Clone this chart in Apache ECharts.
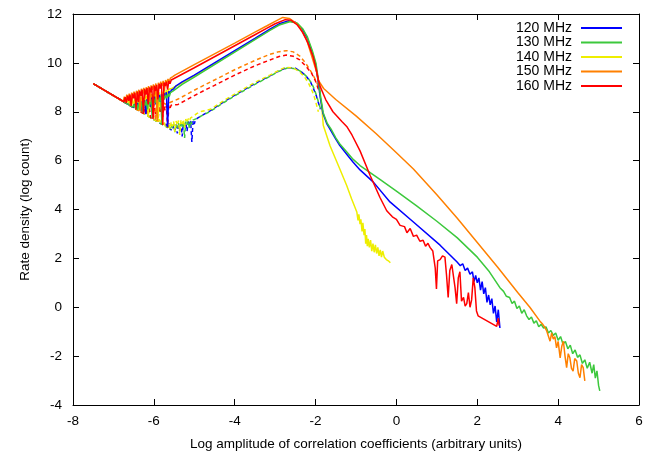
<!DOCTYPE html>
<html>
<head>
<meta charset="utf-8">
<script src="https://cdn.jsdelivr.net/npm/echarts@6/dist/echarts.min.js"></script>
<style>html,body{margin:0;padding:0;background:#fff}#c{width:659px;height:456px}</style>
</head>
<body>
<div id="c"></div>
<script>
const legendNames = ['120 MHz', '130 MHz', '140 MHz', '150 MHz', '160 MHz'];
const xTitle = 'Log amplitude of correlation coefficients (arbitrary units)';
const yTitle = 'Rate density (log count)';

// solid curves [x, y]
const s120solid = [[-7.5,9.15],[-6.50,8.17],
[-6.47,8.32],[-6.44,8.16],[-6.41,8.36],[-6.38,8.20],[-6.35,8.40],[-6.32,8.05],[-6.29,8.43],[-6.26,8.28],[-6.23,8.47],[-6.20,7.90],[-6.17,8.51],[-6.14,8.35],[-6.11,8.55],[-6.08,8.20],[-6.05,8.58],[-6.02,8.45],[-5.99,8.62],[-5.96,8.30],[-5.93,8.65],[-5.90,8.50],[-5.87,8.69],[-5.84,8.40],[-5.81,8.72],[-5.78,8.58],[-5.75,8.76],[-5.72,8.62],[-5.69,8.80],[-5.66,7.38],[-5.63,8.84],[-5.60,8.75],[-5.57,8.88],[-5.54,8.82],[-5.51,8.94],[-5.46,9.05],
[-5.3,9.22],[-5.0,9.5],[-4.5,10.0],[-4.0,10.5],[-3.5,11.0],[-3.13,11.38],[-2.9,11.6],[-2.68,11.72],[-2.5,11.66],[-2.35,11.42],[-2.22,11.05],[-2.1,10.5],[-2.01,9.98],[-1.94,9.3],[-1.88,8.55],[-1.82,7.95],[-1.72,7.5],[-1.64,7.28],[-1.5,6.88],[-1.4,6.62],[-1.2,6.2],[-1.07,5.93],[-0.9,5.62],[-0.57,5.12],[-0.16,4.31],[0.42,3.49],[1.08,2.54],
[1.50,1.85],[1.58,1.70],[1.64,1.78],[1.70,1.50],[1.76,1.60],[1.82,1.35],[1.88,1.45],[1.92,1.05],[1.96,1.30],[2.00,1.00],[2.04,1.20],[2.08,0.70],[2.12,1.05],[2.16,0.55],[2.20,0.80],[2.24,0.20],[2.28,0.50],[2.32,0.10],[2.36,0.35],[2.40,-0.25],[2.44,0.05],[2.48,-0.60],[2.52,-0.10],[2.56,-0.85]];

const s130solid = [[-7.5,9.15],[-6.52,8.19],
[-6.49,8.30],[-6.46,8.14],[-6.43,8.33],[-6.40,8.08],[-6.37,8.36],[-6.34,8.20],[-6.31,8.39],[-6.28,7.96],[-6.25,8.42],[-6.22,8.25],[-6.19,8.45],[-6.16,8.10],[-6.13,8.48],[-6.10,8.30],[-6.07,8.51],[-6.04,7.73],[-6.01,8.54],[-5.98,8.35],[-5.95,8.57],[-5.92,8.20],[-5.89,8.60],[-5.86,8.45],[-5.83,8.63],[-5.80,7.50],[-5.77,8.66],[-5.74,8.50],[-5.71,8.70],[-5.68,8.55],[-5.65,8.74],[-5.62,8.62],[-5.59,8.78],[-5.56,8.70],[-5.53,8.84],[-5.50,8.92],
[-5.3,9.12],[-5.0,9.42],[-4.5,9.93],[-4.0,10.44],[-3.5,10.95],[-3.13,11.33],[-2.9,11.55],[-2.62,11.69],[-2.45,11.62],[-2.32,11.4],[-2.2,11.05],[-2.08,10.5],[-1.99,9.98],[-1.93,9.3],[-1.87,8.55],[-1.81,7.95],[-1.71,7.52],[-1.62,7.3],[-1.5,6.93],[-1.4,6.68],[-1.2,6.3],[-1.07,6.05],[-0.9,5.8],[-0.4,5.22],[0.0,4.75],[0.5,4.15],[1.0,3.52],[1.5,2.85],[2.0,2.05],[2.3,1.45],
[2.56,0.80],[2.65,0.65],[2.72,0.45],[2.80,0.40],[2.86,0.15],[2.92,0.25],[2.98,-0.05],[3.04,0.05],[3.10,-0.25],[3.16,-0.10],[3.22,-0.35],[3.28,-0.50],[3.34,-0.40],[3.40,-0.65],[3.46,-0.55],[3.52,-0.80],[3.58,-0.70],[3.64,-0.85],[3.70,-0.80],[3.76,-1.05],[3.82,-0.95],[3.88,-1.15],[3.94,-1.05],[4.00,-1.35],[4.06,-1.20],[4.12,-1.50],[4.18,-1.40],[4.24,-1.70],[4.30,-1.55],[4.36,-1.90],[4.42,-1.75],[4.48,-2.05],[4.54,-1.95],[4.60,-2.30],[4.66,-2.15],[4.72,-2.50],[4.78,-2.25],[4.84,-2.70],[4.88,-2.35],[4.92,-2.90],[4.96,-2.60],[5.00,-3.20],[5.03,-3.42]];

const s140solid = [[-7.5,9.15],[-6.74,8.41],
[-6.71,8.55],[-6.68,8.36],[-6.65,8.58],[-6.62,8.29],[-6.59,8.52],[-6.56,8.30],[-6.53,8.56],[-6.50,8.18],[-6.47,8.50],[-6.44,8.30],[-6.41,8.55],[-6.38,8.05],[-6.35,8.58],[-6.32,8.40],[-6.29,8.60],[-6.26,8.20],[-6.23,8.63],[-6.20,8.45],[-6.17,8.66],[-6.14,7.82],[-6.11,8.69],[-6.08,8.50],[-6.05,8.72],[-6.02,8.30],[-5.99,8.75],[-5.96,8.55],[-5.93,8.78],[-5.90,7.58],[-5.87,8.80],[-5.84,8.20],[-5.81,8.83],[-5.78,8.65],[-5.75,8.86],[-5.72,8.60],[-5.69,8.89],[-5.66,8.75],[-5.63,8.92],[-5.60,8.85],[-5.56,8.95],
[-5.3,9.18],[-5.0,9.46],[-4.5,9.96],[-4.0,10.47],[-3.5,10.97],[-3.13,11.35],[-2.9,11.57],[-2.65,11.7],[-2.47,11.63],[-2.33,11.4],[-2.21,11.05],[-2.09,10.5],[-2.0,9.98],[-1.94,9.3],[-1.88,8.6],[-1.85,8.3],[-1.81,7.45],[-1.64,6.6],[-1.40,5.66],[-1.23,4.98],[-1.11,4.44],
[-0.98,3.90],[-0.95,3.55],[-0.93,3.80],[-0.90,3.40],[-0.88,3.60],[-0.85,3.10],[-0.83,3.45],[-0.80,2.95],[-0.78,3.20],[-0.76,2.60],[-0.74,2.95],[-0.72,2.50],[-0.70,2.80],[-0.67,2.45],[-0.64,2.75],[-0.61,2.30],[-0.58,2.60],[-0.55,2.25],[-0.52,2.55],[-0.49,2.20],[-0.46,2.45],[-0.43,2.10],[-0.40,2.35],[-0.37,2.05],[-0.34,2.30],[-0.30,2.05],[-0.25,1.95],[-0.20,1.90],[-0.15,1.82]];

const s150solid = [[-7.5,9.15],[-6.76,8.42],
[-6.73,8.62],[-6.70,8.40],[-6.67,8.70],[-6.64,8.50],[-6.61,8.74],[-6.58,8.25],[-6.55,8.78],[-6.52,8.60],[-6.49,8.82],[-6.46,8.45],[-6.43,8.86],[-6.40,8.70],[-6.37,8.90],[-6.34,8.02],[-6.31,8.94],[-6.28,8.72],[-6.25,8.98],[-6.22,8.55],[-6.19,9.00],[-6.16,8.85],[-6.13,9.05],[-6.10,8.40],[-6.07,9.08],[-6.04,8.90],[-6.01,9.12],[-5.98,8.70],[-5.95,9.16],[-5.92,7.62],[-5.89,9.19],[-5.86,9.00],[-5.83,9.23],[-5.80,9.05],[-5.77,9.26],[-5.74,8.85],[-5.71,9.30],[-5.68,9.15],[-5.65,9.34],[-5.62,9.22],[-5.59,9.38],[-5.56,9.30],[-5.53,9.44],[-5.48,9.50],
[-5.0,9.93],[-4.5,10.37],[-4.0,10.81],[-3.5,11.26],[-3.2,11.52],[-3.0,11.7],[-2.81,11.86],[-2.65,11.82],[-2.5,11.65],[-2.39,11.45],[-2.22,10.95],[-2.10,10.3],[-1.97,9.6],[-1.93,9.28],[-1.8,8.95],[-1.5,8.5],[-1.0,7.83],[-0.5,7.1],[0.0,6.32],[0.42,5.66],[1.0,4.6],[1.5,3.65],[2.0,2.65],[2.5,1.65],[3.0,0.6],[3.3,0.0],
[3.55,-0.57],[3.62,-0.70],[3.68,-0.85],[3.72,-0.98],[3.76,-0.90],[3.80,-1.39],[3.84,-1.05],[3.88,-1.30],[3.92,-1.20],[3.96,-1.66],[4.00,-1.40],[4.05,-2.07],[4.09,-1.60],[4.13,-1.39],[4.17,-2.00],[4.21,-2.47],[4.25,-1.90],[4.29,-2.07],[4.33,-2.50],[4.37,-2.61],[4.41,-2.10],[4.46,-2.20],[4.50,-2.70],[4.54,-2.88],[4.58,-2.35],[4.62,-2.47],[4.66,-3.01]];

const s160solid = [[-7.5,9.15],[-6.74,8.41],
[-6.71,8.60],[-6.68,8.36],[-6.65,8.66],[-6.62,8.45],[-6.59,8.70],[-6.56,8.24],[-6.53,8.74],[-6.50,8.55],[-6.47,8.78],[-6.44,8.12],[-6.41,8.82],[-6.38,8.40],[-6.35,8.86],[-6.32,8.65],[-6.29,8.90],[-6.26,7.94],[-6.23,8.94],[-6.20,8.70],[-6.17,8.97],[-6.14,8.30],[-6.11,9.00],[-6.08,8.80],[-6.05,9.04],[-6.02,7.70],[-5.99,9.07],[-5.96,8.85],[-5.93,9.10],[-5.90,8.50],[-5.87,9.14],[-5.84,8.95],[-5.81,9.17],[-5.78,7.46],[-5.75,9.20],[-5.72,9.05],[-5.69,9.23],[-5.66,8.90],[-5.63,9.26],[-5.60,9.15],[-5.57,9.30],[-5.53,9.33],[-5.50,9.36],
[-5.0,9.8],[-4.5,10.25],[-4.0,10.7],[-3.5,11.15],[-3.2,11.42],[-3.0,11.6],[-2.75,11.77],[-2.6,11.74],[-2.45,11.55],[-2.32,11.25],[-2.2,10.85],[-2.06,10.25],[-1.98,9.7],[-1.93,9.3],[-1.89,9.05],[-1.75,8.5],[-1.57,8.0],[-1.35,7.6],[-1.23,7.4],[-1.1,7.05],[-0.9,6.4],[-0.65,5.39],[-0.41,4.5],[-0.24,3.95],[-0.1,3.7],
[0.00,3.60],[0.09,3.35],[0.20,3.30],[0.26,3.05],[0.34,3.22],[0.42,2.90],[0.50,2.95],[0.58,2.70],[0.66,2.74],[0.72,2.50],[0.78,2.62],[0.83,2.45],[0.90,2.30],[0.96,1.60],[0.99,0.75],[1.02,1.90],[1.08,1.95],[1.14,2.10],[1.20,2.05],[1.24,1.30],[1.28,0.40],[1.32,1.50],[1.37,1.75],[1.41,1.70],[1.45,0.80],[1.49,0.15],[1.53,1.20],[1.57,1.45],[1.61,0.25],[1.66,0.40],[1.70,0.05],[1.74,0.15],[1.78,0.60],[1.82,0.00],[1.86,0.30],[1.90,1.20],[1.94,0.80],[1.98,-0.15],[2.02,-0.35],[2.48,-0.78],[2.52,-0.45],[2.54,-0.75]];

// dashed curves [x, y]
const s120dash = [[-7.5,9.15],[-5.72,7.41],
[-5.69,7.50],[-5.66,7.35],[-5.63,7.52],[-5.60,7.29],[-5.54,7.23],[-5.51,7.45],[-5.48,7.25],[-5.45,7.48],[-5.42,7.11],[-5.39,7.50],[-5.36,7.30],[-5.33,7.53],[-5.30,6.99],[-5.27,7.55],[-5.24,7.35],[-5.21,7.58],[-5.18,7.20],[-5.15,7.60],[-5.12,7.45],[-5.09,7.62],[-5.06,6.76],[-5.03,7.64],[-5.00,7.50],[-4.97,7.68],[-4.92,7.74],[-4.86,7.80],
[-4.6,8.05],[-4.2,8.48],[-3.95,8.72],[-3.5,9.15],[-3.13,9.47],[-2.9,9.68],[-2.72,9.8],[-2.5,9.78],[-2.35,9.63],[-2.22,9.43],[-2.12,9.2],[-2.06,8.98],[-1.98,8.65],[-1.93,8.37],[-1.88,8.1]];

const s130dash = [[-7.5,9.15],[-5.66,7.35],
[-5.63,7.45],[-5.60,7.29],[-5.57,7.48],[-5.54,7.30],[-5.51,7.50],[-5.48,7.17],[-5.45,7.52],[-5.42,7.35],[-5.39,7.54],[-5.36,7.20],[-5.33,7.56],[-5.30,7.40],[-5.27,7.58],[-5.24,6.93],[-5.21,7.60],[-5.18,7.45],[-5.15,7.62],[-5.12,7.30],[-5.09,7.64],[-5.06,7.50],[-5.03,7.66],[-5.00,7.60],[-4.95,7.72],[-4.88,7.78],
[-4.6,8.02],[-4.2,8.45],[-3.95,8.7],[-3.5,9.12],[-3.13,9.45],[-2.9,9.66],[-2.70,9.79],[-2.48,9.76],[-2.33,9.61],[-2.20,9.41],[-2.10,9.17],[-2.04,8.96],[-1.97,8.63],[-1.92,8.35],[-1.87,8.08]];

const s140dash = [[-7.5,9.15],[-5.90,7.58],
[-5.87,7.70],[-5.84,7.52],[-5.81,7.68],[-5.78,7.46],[-5.75,7.62],[-5.72,7.41],[-5.66,7.35],[-5.63,7.55],[-5.60,7.29],[-5.57,7.58],[-5.54,7.40],[-5.51,7.60],[-5.48,7.17],[-5.45,7.62],[-5.42,7.45],[-5.39,7.64],[-5.36,7.05],[-5.33,7.66],[-5.30,7.50],[-5.27,7.68],[-5.24,7.35],[-5.21,7.70],[-5.18,7.55],[-5.15,7.72],[-5.12,7.62],[-5.09,7.75],[-5.05,7.80],[-5.00,7.84],[-4.94,7.92],[-4.86,8.0],
[-4.6,8.1],[-4.2,8.53],[-3.95,8.77],[-3.5,9.2],[-3.13,9.5],[-2.9,9.7],[-2.75,9.82],[-2.55,9.8],[-2.40,9.64],[-2.27,9.42],[-2.17,9.15],[-2.10,8.92],[-2.03,8.6],[-1.98,8.3],[-1.93,8.0]];

const s150dash = [[-7.5,9.15],[-6.56,8.23],
[-6.53,8.30],[-6.50,8.17],[-6.44,8.11],[-6.41,8.15],[-6.38,8.05],[-6.35,8.22],[-6.32,7.99],[-6.29,8.10],[-6.26,7.93],[-6.23,8.20],[-6.20,8.05],[-6.17,8.24],[-6.14,7.82],[-6.11,8.27],[-6.08,8.10],[-6.05,8.29],[-6.02,7.90],[-5.99,8.31],[-5.96,7.64],[-5.93,8.32],[-5.90,8.15],[-5.87,8.33],[-5.84,7.95],[-5.81,8.34],[-5.78,8.20],[-5.75,8.35],[-5.70,8.30],[-5.66,8.36],[-5.60,8.38],
[-5.4,8.52],[-5.0,8.88],[-4.78,9.07],[-4.5,9.3],[-4.0,9.72],[-3.5,10.1],[-3.13,10.35],[-2.9,10.46],[-2.72,10.5],[-2.55,10.45],[-2.39,10.28],[-2.25,10.0],[-2.14,9.72],[-2.03,9.4],[-1.93,9.05],[-1.88,8.8]];

const s160dash = [[-7.5,9.15],[-6.44,8.11],
[-6.41,8.20],[-6.38,8.05],[-6.35,8.16],[-6.32,7.99],[-6.26,7.93],[-6.23,8.10],[-6.20,7.88],[-6.17,8.12],[-6.14,7.95],[-6.11,8.14],[-6.08,7.76],[-6.02,7.70],[-5.99,8.16],[-5.96,7.90],[-5.93,8.18],[-5.90,7.58],[-5.87,8.19],[-5.84,8.00],[-5.81,8.21],[-5.78,7.80],[-5.75,8.23],[-5.72,8.05],[-5.69,8.25],[-5.66,7.36],[-5.63,8.26],[-5.60,8.15],[-5.57,8.27],[-5.52,8.28],[-5.45,8.29],
[-5.4,8.3],[-5.0,8.66],[-4.78,8.85],[-4.5,9.08],[-4.0,9.5],[-3.5,9.88],[-3.13,10.12],[-2.9,10.26],[-2.72,10.32],[-2.55,10.27],[-2.39,10.12],[-2.25,9.88],[-2.10,9.58],[-2.0,9.25],[-1.93,8.92],[-1.88,8.7]];

const colors = ['#0000ff', '#3cc83c', '#eeee00', '#ff8000', '#ff0000'];
const solidData = [s120solid, s130solid, s140solid, s150solid, s160solid];
const dashData = [s120dash, s130dash, s140dash, s150dash, s160dash];
const solidDrawOrder = [2, 0, 1, 3, 4];

const FONT = 'Liberation Sans, Arial, sans-serif';
const series = [];
dashData.forEach((d, i) => series.push({
  name: legendNames[i] + ' (dashed)', type: 'line', data: d, symbol: 'none', showSymbol: false,
  lineStyle: { width: 1.5, color: colors[i], type: [4, 3] }, itemStyle: { color: colors[i] }, z: 2
}));
solidDrawOrder.forEach(i => series.push({
  name: legendNames[i], type: 'line', data: solidData[i], symbol: 'none', showSymbol: false,
  lineStyle: { width: 1.5, color: colors[i] }, itemStyle: { color: colors[i] }, z: 3
}));

const axisCommon = {
  type: 'value', splitLine: { show: false },
  axisLine: { show: true, onZero: false, lineStyle: { color: '#000', width: 1 } },
  axisTick: { show: true, inside: true, length: 6, lineStyle: { color: '#000' } }
};

const chart = echarts.init(document.getElementById('c'), null, { renderer: 'canvas' });
chart.setOption({
  animation: false,
  backgroundColor: '#fff',
  grid: { left: 73, right: 20, top: 14, bottom: 49, containLabel: false },
  legend: {
    data: legendNames, orient: 'vertical', right: 37, top: 21, align: 'right', padding: 0,
    icon: 'rect', itemWidth: 41, itemHeight: 2, itemGap: 0.5,
    textStyle: { fontFamily: FONT, fontSize: 14, color: '#000', padding: [0, 4, 0, 0] },
    selectedMode: false
  },
  xAxis: [
    Object.assign({}, axisCommon, {
      position: 'bottom', min: -8, max: 6, interval: 2,
      axisLabel: { color: '#000', fontFamily: FONT, fontSize: 13.5, margin: 9 },
      name: xTitle, nameLocation: 'middle', nameGap: 32,
      nameTextStyle: { color: '#000', fontFamily: FONT, fontSize: 13.5 }
    }),
    Object.assign({}, axisCommon, {
      position: 'top', min: -8, max: 6, interval: 2, axisLabel: { show: false }
    })
  ],
  yAxis: [
    Object.assign({}, axisCommon, {
      position: 'left', min: -4, max: 12, interval: 2,
      axisLabel: { color: '#000', fontFamily: FONT, fontSize: 13.5, margin: 11 },
      name: yTitle, nameLocation: 'middle', nameGap: 41, nameRotate: 90,
      nameTextStyle: { color: '#000', fontFamily: FONT, fontSize: 13.5 }
    }),
    Object.assign({}, axisCommon, {
      position: 'right', min: -4, max: 12, interval: 2, axisLabel: { show: false }
    })
  ],
  series: series
});
</script>
</body>
</html>
